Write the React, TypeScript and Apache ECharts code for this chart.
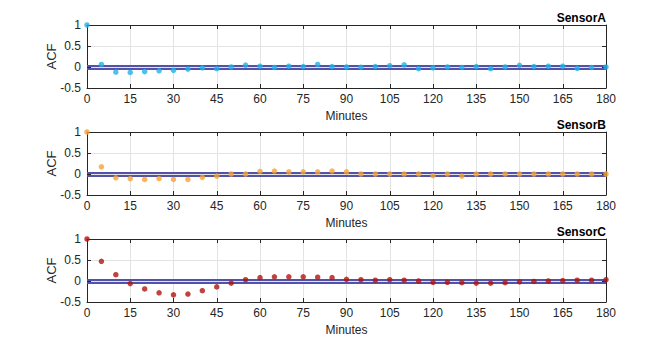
import React, { useEffect, useRef } from "react";
import * as echarts from "echarts";

const lags: number[] = [0,5,10,15,20,25,30,35,40,45,50,55,60,65,70,75,80,85,90,95,100,105,110,115,120,125,130,135,140,145,150,155,160,165,170,175,180];
const sensorNames = ["SensorA", "SensorB", "SensorC"];
const sensorA: number[] = [1,0.06,-0.12,-0.13,-0.11,-0.09,-0.08,-0.05,-0.02,-0.04,0,0.045,0.02,-0.01,0.02,0.01,0.06,0.01,0,-0.005,0.01,0.03,0.05,-0.04,-0.02,0,-0.01,0.01,-0.04,0,0.04,0.01,0.02,0.02,-0.03,-0.01,0];
const sensorB: number[] = [1,0.17,-0.09,-0.11,-0.13,-0.11,-0.13,-0.13,-0.08,-0.05,0,0,0.06,0.07,0.05,0.05,0.05,0.07,0.05,0,0,0,0,0,-0.04,0,-0.05,0,0,0,0,0,0,0,0,0,0];
const sensorC: number[] = [1,0.47,0.15,-0.06,-0.19,-0.28,-0.33,-0.31,-0.23,-0.14,-0.05,0.03,0.08,0.1,0.1,0.1,0.09,0.08,0.04,0.03,0.02,0.03,0.02,0,-0.03,-0.03,-0.04,-0.05,-0.05,-0.04,-0.02,-0.01,0,0.01,0.02,0.02,0.03];
const confBound = 0.045;
const yTicks = [-0.5,0,0.5,1];
const colors = ["#1FB2EA", "#F7A231", "#B0140F"];

export default function App() {
  const ref = useRef<HTMLDivElement>(null);
  useEffect(() => {
    const chart = echarts.init(ref.current!, null, { renderer: "svg" });
    const all = [sensorA, sensorB, sensorC];
    const tops = [25, 132, 239];
    const font = "Liberation Sans, Arial, Helvetica, sans-serif";
    const grids: any[] = [];
    const xAxes: any[] = [];
    const yAxes: any[] = [];
    const series: any[] = [];
    const titles: any[] = [];
    tops.forEach((top, i) => {
      grids.push({ left: 87, width: 519, top, height: 63 });
      const common = {
        gridIndex: i,
        min: 0, max: 180, interval: 15, type: "value",
      };
      xAxes.push({
        ...common,
        position: "bottom",
        name: "Minutes", nameLocation: "middle", nameGap: 22,
        nameTextStyle: { color: "#262626", fontSize: 12, fontFamily: font },
        axisLine: { show: true, onZero: false, lineStyle: { color: "#262626", width: 1 } },
        axisTick: { show: true, inside: true, length: 4, lineStyle: { color: "#262626" } },
        axisLabel: { color: "#262626", fontSize: 12, fontFamily: font, margin: 5 },
        splitLine: { show: true, lineStyle: { color: "#E3E3E3", width: 1 } },
      });
      xAxes.push({
        ...common,
        position: "top",
        axisLine: { show: true, onZero: false, lineStyle: { color: "#262626", width: 1 } },
        axisTick: { show: true, inside: true, length: 4, lineStyle: { color: "#262626" } },
        axisLabel: { show: false },
        splitLine: { show: false },
      });
      const ycommon = { gridIndex: i, type: "value", min: -0.5, max: 1, interval: 0.5 };
      yAxes.push({
        ...ycommon,
        position: "left",
        name: "ACF", nameLocation: "middle", nameGap: 29, nameMoveOverlap: false,
        nameTextStyle: { color: "#262626", fontSize: 13, fontFamily: font },
        axisLine: { show: true, onZero: false, lineStyle: { color: "#262626", width: 1 } },
        axisTick: { show: true, inside: true, length: 4, lineStyle: { color: "#262626" } },
        axisLabel: { color: "#262626", fontSize: 12, fontFamily: font, margin: 6,
          formatter: (v: number) => (yTicks.includes(v) ? String(v) : "") },
        splitLine: { show: true, lineStyle: { color: "#E3E3E3", width: 1 } },
      });
      yAxes.push({
        ...ycommon,
        position: "right",
        axisLine: { show: true, onZero: false, lineStyle: { color: "#262626", width: 1 } },
        axisTick: { show: true, inside: true, length: 4, lineStyle: { color: "#262626" } },
        axisLabel: { show: false },
        splitLine: { show: false },
      });
      series.push({
        type: "scatter",
        xAxisIndex: i * 2, yAxisIndex: i * 2,
        data: lags.map((l, k) => [l, all[i][k]]),
        symbolSize: 5.5,
        itemStyle: { color: colors[i] },
        clip: false,
        z: 3,
        markLine: {
          silent: true, symbol: "none", label: { show: false },
          lineStyle: { color: "#5252AA", width: 2, type: "solid" },
          data: [{ yAxis: confBound }, { yAxis: -confBound }],
          z: 2,
        },
      });
      titles.push({
        text: sensorNames[i], right: 64, top: top - 13,
        textStyle: { fontSize: 12, fontWeight: "bold", color: "#000", fontFamily: font },
        padding: 0,
      });
    });
    chart.setOption({
      animation: false,
      title: titles,
      grid: grids,
      xAxis: xAxes,
      yAxis: yAxes,
      series,
    });
    return () => chart.dispose();
  }, []);
  return <div ref={ref} style={{ width: 670, height: 354, position: "absolute", left: 0, top: 0, background: "#fff" }} />;
}
